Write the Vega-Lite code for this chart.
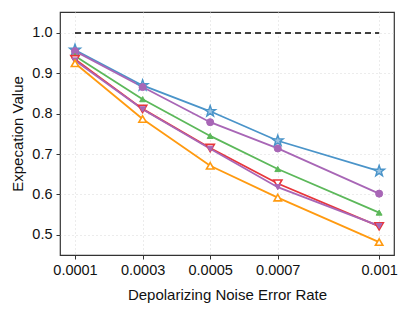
{
  "$schema": "https://vega.github.io/schema/vega-lite/v6.json",
  "width": 334,
  "height": 243,
  "autosize": "none",
  "padding": {"left": 60, "top": 12, "right": 21, "bottom": 57},
  "background": "white",
  "config": {
    "font": "Liberation Sans",
    "view": {"stroke": "#333333", "strokeWidth": 1.2},
    "axis": {
      "labelFontSize": 14.5,
      "titleFontSize": 15,
      "titleFontWeight": "normal",
      "labelColor": "#111111",
      "titleColor": "#111111",
      "tickColor": "#333333",
      "tickSize": 4,
      "domain": false,
      "grid": true,
      "gridColor": "#d8d8d8",
      "gridDash": [1, 3]
    }
  },
  "data": {
    "values": [
      {"rate": 0.0001, "value": 0.958, "series": "A"},
      {"rate": 0.0003, "value": 0.870, "series": "A"},
      {"rate": 0.0005, "value": 0.806, "series": "A"},
      {"rate": 0.0007, "value": 0.733, "series": "A"},
      {"rate": 0.001, "value": 0.658, "series": "A"},
      {"rate": 0.0001, "value": 0.955, "series": "B"},
      {"rate": 0.0003, "value": 0.866, "series": "B"},
      {"rate": 0.0005, "value": 0.779, "series": "B"},
      {"rate": 0.0007, "value": 0.714, "series": "B"},
      {"rate": 0.001, "value": 0.602, "series": "B"},
      {"rate": 0.0001, "value": 0.943, "series": "C"},
      {"rate": 0.0003, "value": 0.836, "series": "C"},
      {"rate": 0.0005, "value": 0.745, "series": "C"},
      {"rate": 0.0007, "value": 0.663, "series": "C"},
      {"rate": 0.001, "value": 0.555, "series": "C"},
      {"rate": 0.0001, "value": 0.935, "series": "D"},
      {"rate": 0.0003, "value": 0.812, "series": "D"},
      {"rate": 0.0005, "value": 0.715, "series": "D"},
      {"rate": 0.0007, "value": 0.627, "series": "D"},
      {"rate": 0.001, "value": 0.521, "series": "D"},
      {"rate": 0.0001, "value": 0.932, "series": "E"},
      {"rate": 0.0003, "value": 0.811, "series": "E"},
      {"rate": 0.0005, "value": 0.713, "series": "E"},
      {"rate": 0.0007, "value": 0.618, "series": "E"},
      {"rate": 0.001, "value": 0.522, "series": "E"},
      {"rate": 0.0001, "value": 0.925, "series": "F"},
      {"rate": 0.0003, "value": 0.787, "series": "F"},
      {"rate": 0.0005, "value": 0.671, "series": "F"},
      {"rate": 0.0007, "value": 0.592, "series": "F"},
      {"rate": 0.001, "value": 0.482, "series": "F"},
      {"rate": 0.0001, "value": 1.0, "series": "ideal"},
      {"rate": 0.001, "value": 1.0, "series": "ideal"}
    ]
  },
  "encoding": {
    "x": {
      "field": "rate",
      "type": "quantitative",
      "scale": {"domain": [0.0000556, 0.001044], "nice": false, "zero": false},
      "axis": {
        "values": [0.0001, 0.0003, 0.0005, 0.0007, 0.001],
        "format": ".4~f",
        "title": "Depolarizing Noise Error Rate",
        "labelPadding": 4,
        "titlePadding": 11
      }
    },
    "y": {
      "field": "value",
      "type": "quantitative",
      "scale": {"domain": [0.45, 1.052], "nice": false, "zero": false},
      "axis": {
        "values": [0.5, 0.6, 0.7, 0.8, 0.9, 1.0],
        "format": ".1f",
        "title": "Expecation Value",
        "labelPadding": 4,
        "titlePadding": 6
      }
    }
  },
  "layer": [
    {
      "transform": [{"filter": "datum.series === 'ideal'"}],
      "mark": {"type": "line", "color": "black", "strokeDash": [6, 4], "strokeWidth": 1.6},
      "encoding": {}
    },
    {
      "transform": [{"filter": "datum.series !== 'ideal'"}],
      "mark": {"type": "line", "strokeWidth": 1.8},
      "encoding": {
        "color": {
          "field": "series",
          "type": "nominal",
          "scale": {"domain": ["A", "B", "C", "D", "E", "F"], "range": ["#4a94c9", "#a866b6", "#5cb85a", "#e8363a", "#a866b6", "#ff9a10"]},
          "legend": null
        }
      }
    },
    {
      "transform": [{"filter": "datum.series === 'A'"}],
      "mark": {"type": "point", "shape": "M0,-1L0.235,-0.324L0.951,-0.309L0.38,0.124L0.588,0.809L0,0.4L-0.588,0.809L-0.38,0.124L-0.951,-0.309L-0.235,-0.324Z", "filled": true, "fill": "#9cc4e2", "stroke": "#4a94c9", "strokeWidth": 1.4, "size": 130, "opacity": 1},
      "encoding": {}
    },
    {
      "transform": [{"filter": "datum.series === 'B'"}],
      "mark": {"type": "point", "shape": "circle", "filled": true, "fill": "#a866b6", "stroke": "#a866b6", "strokeWidth": 1, "size": 50, "opacity": 1},
      "encoding": {}
    },
    {
      "transform": [{"filter": "datum.series === 'C'"}],
      "mark": {"type": "point", "shape": "triangle-up", "filled": true, "fill": "#5cb85a", "stroke": "#5cb85a", "strokeWidth": 1, "size": 35, "opacity": 1},
      "encoding": {}
    },
    {
      "transform": [{"filter": "datum.series === 'D'"}],
      "mark": {"type": "point", "shape": "triangle-down", "filled": true, "fill": "#ffffff", "stroke": "#e8363a", "strokeWidth": 1.6, "size": 70, "opacity": 1},
      "encoding": {}
    },
    {
      "transform": [{"filter": "datum.series === 'E'"}],
      "mark": {"type": "point", "shape": "triangle-down", "filled": true, "fill": "#a866b6", "stroke": "#a866b6", "strokeWidth": 1, "size": 35, "opacity": 1},
      "encoding": {}
    },
    {
      "transform": [{"filter": "datum.series === 'F'"}],
      "mark": {"type": "point", "shape": "triangle-up", "filled": true, "fill": "#ffffff", "stroke": "#ff9a10", "strokeWidth": 1.6, "size": 55, "opacity": 1},
      "encoding": {}
    }
  ]
}
